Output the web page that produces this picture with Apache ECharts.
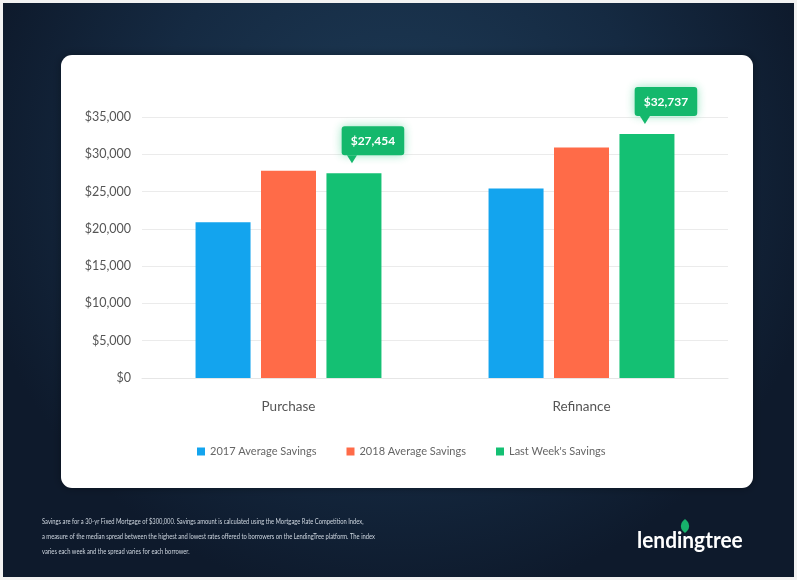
<!DOCTYPE html>
<html>
<head>
<meta charset="utf-8">
<script src="https://cdn.jsdelivr.net/npm/echarts@6/dist/echarts.min.js"></script>
<style>
html,body{margin:0;padding:0;background:#f2f2f2;}
#chart{width:797px;height:580px;}
</style>
</head>
<body>
<div id="chart"></div>
<script>
const categories = ['Purchase', 'Refinance'];
const savings2017 = [20900, 25400];
const savings2018 = [27800, 30900];
const lastWeek = [27454, 32737];
const seriesNames = ['2017 Average Savings', '2018 Average Savings', "Last Week's Savings"];
const yTicks = { min: 0, max: 35000, interval: 5000 };
const footnote = [
  'Savings are for a 30-yr Fixed Mortgage of $300,000. Savings amount is calculated using the Mortgage Rate Competition Index,',
  'a measure of the median spread between the highest and lowest rates offered to borrowers on the LendingTree platform. The index',
  'varies each week and the spread varies for each borrower.'
];

const chart = echarts.init(document.getElementById('chart'));
const fmt = v => '$' + v.toLocaleString('en-US');

const option = {
  animation: false,
  textStyle: { fontFamily: 'Lato' },
  graphic: [
    { type: 'rect', z: -10, shape: { x: 3, y: 3, width: 791, height: 574 },
      style: { fill: { type: 'radial', x: 0.5, y: 0.3, r: 0.75,
        colorStops: [{ offset: 0, color: '#1e3c58' }, { offset: 0.6, color: '#152a42' }, { offset: 1, color: '#0e1a2c' }] } } },
    { type: 'rect', z: -9, shape: { x: 61, y: 55, width: 692, height: 433, r: 11 },
      style: { fill: '#ffffff', shadowBlur: 8, shadowColor: 'rgba(0,0,0,0.35)' } },
    ...footnote.map((t, i) => ({
      type: 'text', z: 5, x: 42, y: 521 + i * 15, scaleX: 0.745,
      style: { text: t, fill: '#cfd7e0', font: '7.8px Lato', textVerticalAlign: 'middle' }
    })),
    { type: 'text', z: 5, x: 637, y: 541, scaleX: 0.95,
      style: { text: 'lendingtree', fill: '#ffffff', font: 'bold 22px Lato', textVerticalAlign: 'middle' } },
    { type: 'rect', z: 6, x: 685, y: 526, rotation: Math.PI / 4, shape: { x: -5, y: -5, width: 10, height: 10, r: [7, 0, 7, 0] },
      style: { fill: '#17b26b' } }
  ],
  legend: {
    data: seriesNames, left: 192, top: 441, itemWidth: 8, itemHeight: 8, itemGap: 30,
    icon: 'rect', textStyle: { fontSize: 11, color: '#666', fontFamily: 'Lato' }
  },
  grid: { left: 142, right: 69, top: 117, bottom: 202 },
  xAxis: {
    type: 'category', data: categories,
    axisLine: { lineStyle: { color: '#e6e6e6' } }, axisTick: { show: false },
    axisLabel: { fontSize: 13.5, color: '#555', margin: 22 }
  },
  yAxis: {
    type: 'value', min: yTicks.min, max: yTicks.max, interval: yTicks.interval,
    axisLine: { show: false }, axisTick: { show: false },
    splitLine: { lineStyle: { color: '#ebebeb' } },
    axisLabel: { fontSize: 12.5, color: '#555', margin: 11, formatter: fmt }
  },
  series: [
    { name: seriesNames[0], type: 'bar', data: savings2017, barWidth: 55, barGap: '19%', itemStyle: { color: '#13a4ee' } },
    { name: seriesNames[1], type: 'bar', data: savings2018, barWidth: 55, barGap: '19%', itemStyle: { color: '#ff6b48' } },
    { name: seriesNames[2], type: 'bar', data: lastWeek, barWidth: 55, barGap: '19%', itemStyle: { color: '#14c073' },
      label: {
        show: true, position: 'top', distance: 18, offset: [19, 0],
        formatter: p => fmt(p.value), color: '#fff', fontWeight: 'bold', fontSize: 12,
        backgroundColor: '#14b86c', borderRadius: 3, padding: [9, 9, 8, 9],
        shadowBlur: 10, shadowColor: 'rgba(20,192,115,0.45)'
      },
      markPoint: {
        symbol: 'triangle', symbolRotate: 180, symbolSize: [10, 8], symbolOffset: [-2, -14],
        itemStyle: { color: '#14b86c' }, label: { show: false },
        data: categories.map((c, i) => ({ coord: [c, lastWeek[i]] }))
      }
    }
  ]
};
chart.setOption(option);
</script>
</body>
</html>
